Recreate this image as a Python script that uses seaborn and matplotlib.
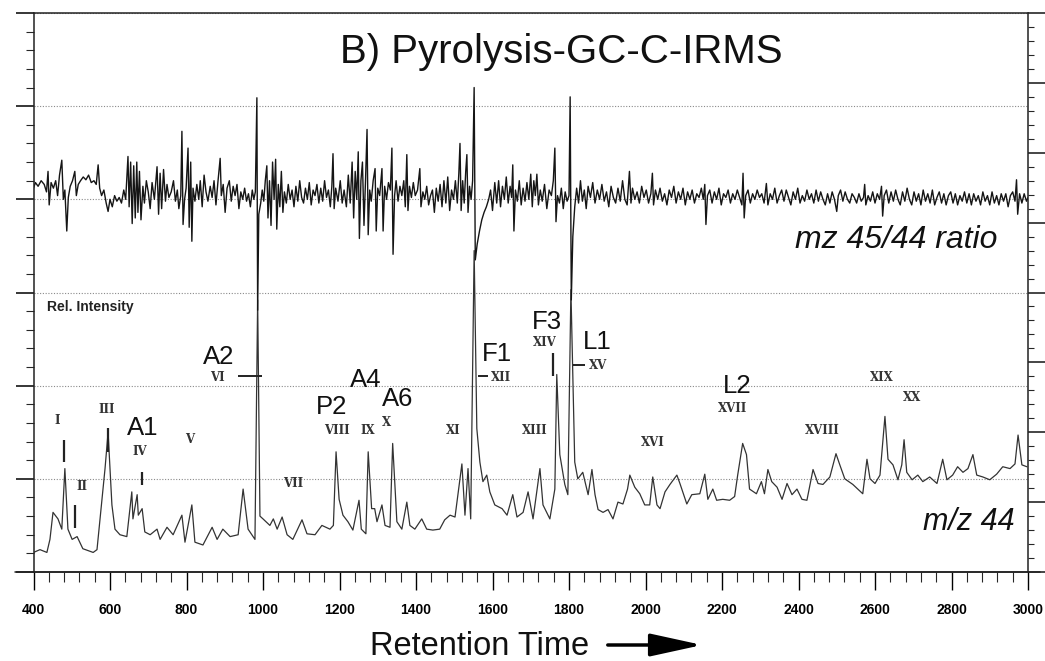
import matplotlib
matplotlib.use("Agg")
import matplotlib.pyplot as plt
import seaborn as sns
from matplotlib.ticker import MultipleLocator
from matplotlib.lines import Line2D

sns.set_theme(style="ticks")
plt.rcParams['font.family'] = ['Liberation Sans', 'DejaVu Sans']

# ---------------- data ----------------
title = "B) Pyrolysis-GC-C-IRMS"
x_ticks = list(range(400, 3001, 200))

# m/z 45/44 ratio trace (relative units, left axis 0-600)
ratio_time = [
    400, 405, 412, 420, 428, 434, 438, 441, 446, 452,
    458, 463, 468, 474, 478, 482, 487, 491, 496, 502,
    508, 512, 517, 523, 530, 537, 544, 551, 558, 564,
    569, 573, 578, 584, 590, 595, 600, 606, 612, 618,
    624, 630, 636, 641, 647, 650, 654, 658, 662, 666,
    670, 673, 677, 681, 686, 690, 695, 700, 705, 710,
    716, 723, 727, 731, 735, 740, 745, 749, 754, 760,
    766, 771, 776, 780, 785, 788, 791, 795, 799, 804,
    807, 811, 814, 817, 822, 827, 832, 836, 841, 846,
    851, 856, 862, 867, 872, 877, 882, 888, 891, 896,
    901, 906, 912, 917, 922, 927, 932, 937, 942, 947,
    952, 957, 962, 967, 972, 976, 980, 984, 986, 989,
    994, 998, 1002, 1006, 1010, 1013, 1017, 1021, 1025, 1029,
    1033, 1036, 1040, 1044, 1048, 1052, 1056, 1061, 1066, 1071,
    1076, 1081, 1086, 1091, 1096, 1101, 1106, 1111, 1116, 1121,
    1126, 1131, 1136, 1141, 1146, 1151, 1156, 1161, 1166, 1171,
    1176, 1180, 1183, 1186, 1190, 1196, 1202, 1207, 1212, 1218,
    1223, 1228, 1233, 1237, 1241, 1245, 1249, 1252, 1256, 1260,
    1264, 1268, 1272, 1275, 1279, 1283, 1288, 1293, 1296, 1300,
    1305, 1311, 1314, 1318, 1323, 1328, 1333, 1337, 1340, 1344,
    1348, 1353, 1358, 1363, 1368, 1372, 1376, 1379, 1383, 1388,
    1393, 1398, 1404, 1410, 1413, 1418, 1423, 1428, 1433, 1438,
    1443, 1448, 1453, 1458, 1463, 1468, 1473, 1478, 1483, 1488,
    1493, 1498, 1503, 1508, 1512, 1515, 1518, 1522, 1526, 1530,
    1533, 1536, 1540, 1544, 1548, 1552, 1555, 1560, 1566, 1572,
    1578, 1584, 1590, 1595, 1600, 1606, 1611, 1616, 1621, 1626,
    1631, 1636, 1641, 1646, 1650, 1653, 1656, 1660, 1665, 1670,
    1675, 1680, 1685, 1690, 1695, 1700, 1704, 1708, 1712, 1716,
    1720, 1725, 1730, 1736, 1742, 1748, 1754, 1759, 1763, 1766,
    1770, 1775, 1780, 1785, 1790, 1795, 1800, 1803, 1806, 1810,
    1815, 1820, 1825, 1830, 1835, 1840, 1845, 1850, 1856, 1862,
    1868, 1874, 1880, 1886, 1892, 1898, 1904, 1910, 1916, 1922,
    1928, 1934, 1940, 1946, 1952, 1958, 1962, 1966, 1972, 1978,
    1984, 1990, 1996, 2002, 2008, 2014, 2018, 2021, 2026, 2032,
    2038, 2044, 2050, 2056, 2062, 2068, 2074, 2080, 2086, 2092,
    2098, 2104, 2110, 2116, 2122, 2128, 2134, 2140, 2146, 2151,
    2155, 2158, 2162, 2168, 2174, 2180, 2186, 2192, 2198, 2204,
    2210, 2216, 2222, 2228, 2234, 2240, 2246, 2252, 2255, 2258,
    2262, 2268, 2274, 2280, 2286, 2292, 2298, 2304, 2310, 2316,
    2320, 2326, 2332, 2338, 2344, 2350, 2356, 2362, 2368, 2374,
    2380, 2386, 2392, 2398, 2404, 2410, 2416, 2422, 2428, 2434,
    2440, 2446, 2452, 2458, 2464, 2470, 2476, 2482, 2488, 2494,
    2500, 2504, 2510, 2516, 2522, 2528, 2534, 2540, 2546, 2552,
    2558, 2564, 2570, 2573, 2576, 2582, 2588, 2594, 2600, 2606,
    2612, 2617, 2620, 2624, 2630, 2636, 2642, 2648, 2654, 2660,
    2666, 2672, 2678, 2684, 2690, 2696, 2702, 2708, 2714, 2720,
    2726, 2732, 2738, 2744, 2750, 2756, 2762, 2768, 2774, 2780,
    2786, 2792, 2798, 2804, 2810, 2816, 2822, 2828, 2834, 2840,
    2846, 2852, 2858, 2864, 2870, 2876, 2882, 2888, 2894, 2900,
    2906, 2912, 2918, 2924, 2930, 2936, 2942, 2948, 2954, 2960,
    2966, 2970, 2973, 2978, 2984, 2990, 2996, 3000,
]
ratio_value = [
    412, 418, 414, 420, 416, 408, 430, 394, 418, 412,
    420, 404, 426, 442, 400, 410, 366, 402, 414, 420,
    430, 404, 416, 420, 424, 421, 426, 418, 420, 416,
    437, 412, 404, 410, 396, 387, 400, 392, 404, 398,
    402, 396, 410, 400, 446, 392, 440, 374, 436, 380,
    440, 386, 430, 378, 414, 396, 420, 408, 390, 418,
    400, 435, 384, 428, 390, 432, 398, 416, 402, 408,
    420, 398, 410, 390, 404, 473, 373, 400, 412, 455,
    370, 440, 355, 412, 398, 416, 400, 420, 392, 426,
    408, 398, 414, 402, 420, 394, 418, 444, 404, 416,
    386, 412, 420, 398, 414, 404, 416, 390, 408, 400,
    412, 398, 406, 392, 410, 400, 408, 509, 281, 384,
    396, 410, 398, 420, 436, 380, 420, 372, 440, 400,
    443, 368, 416, 392, 430, 386, 408, 396, 416, 400,
    410, 392, 414, 398, 420, 402, 396, 412, 400, 418,
    394, 410, 404, 416, 396, 412, 398, 420, 402, 410,
    392, 414, 449, 390, 412, 398, 420, 396, 410, 392,
    426, 396, 440, 380, 430, 400, 451, 358, 420, 440,
    372, 420, 475, 362, 410, 398, 420, 433, 366, 412,
    404, 433, 366, 414, 400, 418, 410, 455, 341, 404,
    420, 398, 414, 404, 420, 392, 448, 388, 414, 402,
    418, 404, 410, 433, 392, 408, 400, 414, 394, 404,
    410, 386, 412, 398, 416, 392, 420, 396, 424, 388,
    410, 400, 420, 396, 428, 460, 388, 420, 396, 430,
    448, 386, 414, 400, 420, 520, 335, 352, 366, 378,
    386, 392, 400, 410, 388, 418, 396, 420, 392, 414,
    400, 424, 396, 414, 402, 437, 366, 410, 398, 420,
    394, 412, 398, 418, 400, 427, 392, 420, 404, 427,
    394, 410, 398, 416, 390, 410, 404, 420, 455, 376,
    404, 396, 412, 390, 408, 398, 404, 510, 292, 360,
    392, 412, 396, 420, 398, 410, 390, 414, 402, 418,
    396, 410, 400, 416, 398, 408, 392, 414, 402, 396,
    412, 398, 420, 400, 394, 430, 396, 412, 400, 408,
    396, 414, 402, 410, 396, 406, 428, 394, 410, 400,
    412, 398, 406, 394, 410, 402, 414, 396, 408, 400,
    412, 394, 408, 400, 410, 396, 406, 402, 412, 400,
    416, 373, 404, 410, 396, 408, 400, 412, 394, 406,
    402, 410, 396, 406, 400, 410, 402, 394, 428, 380,
    404, 410, 396, 406, 400, 410, 402, 406, 396, 417,
    394, 406, 400, 412, 396, 404, 410, 398, 410, 402,
    394, 408, 400, 412, 396, 404, 398, 410, 400, 406,
    396, 410, 398, 408, 400, 394, 406, 396, 408, 400,
    387, 404, 410, 398, 408, 400, 396, 406, 402, 396,
    406, 398, 402, 416, 394, 404, 398, 408, 396, 406,
    400, 414, 382, 404, 410, 396, 408, 398, 410, 400,
    394, 408, 398, 412, 400, 394, 408, 398, 406, 394,
    410, 398, 406, 396, 410, 394, 402, 408, 396, 406,
    394, 404, 408, 396, 406, 394, 404, 398, 408, 396,
    406, 394, 406, 398, 404, 394, 408, 398, 404, 394,
    408, 396, 404, 394, 406, 398, 406, 392, 404, 408,
    398, 421, 384, 406, 396, 406, 398, 402,
]

# m/z 44 trace (relative units, left axis 0-600)
mz44_time = [
    400, 417, 435, 443, 451, 464, 474, 482, 490, 501,
    514, 529, 556, 566, 574, 587, 595, 605, 613, 626,
    644, 657, 660, 671, 674, 684, 691, 705, 723, 731,
    749, 765, 788, 796, 814, 822, 843, 867, 880, 895,
    914, 935, 948, 961, 979, 986, 992, 1000, 1018, 1027,
    1037, 1050, 1063, 1078, 1102, 1115, 1136, 1154, 1175, 1184,
    1191, 1199, 1209, 1222, 1235, 1251, 1257, 1269, 1275, 1284,
    1292, 1298, 1311, 1319, 1332, 1339, 1350, 1363, 1376, 1384,
    1397, 1415, 1428, 1444, 1462, 1475, 1489, 1502, 1520, 1528,
    1536, 1543, 1552, 1559, 1567, 1575, 1585, 1593, 1606, 1625,
    1638, 1653, 1664, 1680, 1693, 1706, 1724, 1732, 1750, 1763,
    1768, 1776, 1789, 1797, 1805, 1815, 1823, 1836, 1850, 1860,
    1868, 1876, 1889, 1902, 1915, 1928, 1941, 1953, 1959, 1972,
    1985, 1998, 2011, 2019, 2030, 2038, 2051, 2064, 2082, 2090,
    2108, 2121, 2142, 2155, 2163, 2176, 2186, 2202, 2220, 2233,
    2241, 2254, 2264, 2272, 2290, 2303, 2311, 2320, 2330, 2344,
    2357, 2370, 2383, 2396, 2409, 2422, 2438, 2451, 2464, 2482,
    2498, 2508, 2521, 2542, 2568, 2579, 2587, 2600, 2613, 2626,
    2634, 2647, 2660, 2670, 2676, 2683, 2697, 2712, 2725, 2743,
    2762, 2777, 2788, 2803, 2816, 2830, 2843, 2856, 2866, 2882,
    2900, 2918, 2934, 2953, 2966, 2974, 2984, 2997,
]
mz44_value = [
    21, 24, 21, 35, 64, 57, 46, 111, 46, 35,
    38, 25, 21, 24, 57, 111, 150, 72, 46, 40,
    38, 86, 57, 83, 61, 68, 43, 40, 46, 35,
    48, 40, 61, 32, 72, 32, 29, 48, 35, 46,
    38, 40, 89, 46, 35, 292, 60, 57, 50, 57,
    46, 59, 40, 35, 56, 41, 40, 50, 46, 50,
    129, 78, 61, 54, 45, 77, 46, 41, 129, 68,
    68, 54, 72, 50, 48, 138, 54, 46, 75, 50,
    46, 57, 46, 45, 46, 56, 61, 59, 116, 61,
    111, 57, 345, 154, 118, 97, 104, 86, 72, 68,
    61, 83, 59, 64, 86, 57, 111, 72, 57, 89,
    212, 126, 94, 83, 303, 118, 100, 107, 83, 110,
    83, 67, 64, 67, 57, 75, 73, 89, 104, 91,
    84, 72, 72, 102, 72, 68, 86, 94, 104, 95,
    73, 83, 84, 105, 78, 89, 77, 78, 77, 81,
    104, 138, 126, 89, 84, 97, 84, 110, 97, 91,
    78, 95, 83, 89, 78, 77, 110, 95, 94, 102,
    127, 115, 100, 94, 84, 121, 100, 95, 104, 167,
    121, 115, 99, 115, 142, 107, 99, 104, 97, 102,
    95, 121, 99, 104, 113, 107, 111, 126, 104, 102,
    99, 105, 113, 111, 116, 147, 115, 113,
]

# compound labels (large) and peak numbers (roman)
compound_labels = ["A1", "A2", "P2", "A4", "A6", "F1", "F3", "L1", "L2"]
compound_time = [686, 885, 1178, 1269, 1352, 1612, 1742, 1873, 2239]
compound_level = [155, 231, 177, 206, 186, 234, 268, 247, 200]

roman_labels = ["I", "II", "III", "IV", "V", "VI", "VII", "VIII", "IX", "X",
                "XI", "XII", "XIII", "XIV", "XV", "XVI", "XVII", "XVIII", "XIX", "XX"]
roman_time = [461, 527, 592, 678, 809, 880, 1078, 1193, 1273, 1322,
              1497, 1622, 1711, 1737, 1876, 2019, 2228, 2461, 2618, 2696]
roman_level = [163, 92, 174, 129, 142, 209, 95, 152, 152, 161,
               152, 209, 152, 246, 222, 139, 176, 152, 209, 187]

# short vertical markers and horizontal pointers
mark_time = [480, 508, 595, 684, 1758]
mark_low = [118, 47, 129, 93, 210]
mark_high = [142, 72, 155, 107, 235]
pointer_start = [935, 1562, 1810]
pointer_end = [997, 1588, 1842]
pointer_level = [210, 210, 222]

# ---------------- figure ----------------
W, H = 1045, 661
fig = plt.figure(figsize=(W / 100, H / 100), dpi=100)
ax = fig.add_axes([33.5 / W, 1 - 572 / H, (1028 - 33.5) / W, (572 - 13) / H])

ax.grid(axis="y", which="major", linestyle=(0, (1, 1.5)), color="#8a8a8a", linewidth=0.8)

sns.lineplot(x=mz44_time, y=mz44_value, ax=ax, color="#333333", linewidth=0.9,
             estimator=None, sort=False)
sns.lineplot(x=ratio_time, y=ratio_value, ax=ax, color="#151515", linewidth=1.0,
             estimator=None, sort=False)

ax.set_xlim(400, 3000)
ax.set_ylim(0, 600)
ax.set_xlabel("")
ax.set_ylabel("")
ax.set_xticks(x_ticks)
ax.set_xticklabels([str(v) for v in x_ticks])
ax.xaxis.set_minor_locator(MultipleLocator(40))
ax.yaxis.set_major_locator(MultipleLocator(100))
ax.yaxis.set_minor_locator(MultipleLocator(20))
ax.tick_params(axis="x", which="major", direction="out", length=13, width=1.0,
               pad=9, labelsize=10, colors="black", bottom=True)
ax.tick_params(axis="x", which="minor", direction="out", length=7, width=0.8, bottom=True)
ax.tick_params(axis="y", which="major", direction="out", length=13, width=1.3,
               left=True, labelleft=False)
ax.tick_params(axis="y", which="minor", direction="out", length=6, width=0.8, left=True)
for lab in ax.get_xticklabels():
    lab.set_fontweight("bold")
for sp in ax.spines.values():
    sp.set_color("#222222")
    sp.set_linewidth(1.1)

ax2 = ax.twinx()
ax2.set_ylim(0, 8)
ax2.yaxis.set_major_locator(MultipleLocator(1))
ax2.yaxis.set_minor_locator(MultipleLocator(0.2))
ax2.tick_params(axis="y", which="major", direction="out", length=12, width=1.2,
                right=True, labelright=False)
ax2.tick_params(axis="y", which="minor", direction="out", length=4.5, width=0.8, right=True)
for sp in ax2.spines.values():
    sp.set_visible(False)

# extended baseline of the time axis
fig.add_artist(Line2D([15 / W, 1040 / W], [1 - 572 / H, 1 - 572 / H],
                      color="#222222", linewidth=1.1))

# markers and pointers
ax.vlines(mark_time, mark_low, mark_high, color="#222222", linewidth=1.6)
ax.hlines(pointer_level, pointer_start, pointer_end, color="#222222", linewidth=1.4)

# labels
for lab, t, v in zip(compound_labels, compound_time, compound_level):
    ax.text(t, v, lab, ha="center", va="center", fontsize=18.5, color="#111111")
for lab, t, v in zip(roman_labels, roman_time, roman_level):
    ax.text(t, v, lab, ha="center", va="center", fontsize=8.5, fontweight="bold",
            family=["DejaVu Serif"], color="#333333")

ax.text(1781, 546, title, ha="center", va="baseline", fontsize=29, color="#111111")
ax.text(2919, 348, "mz 45/44 ratio", ha="right", va="baseline", fontsize=23,
        style="italic", color="#111111")
ax.text(2966, 45, "m/z 44", ha="right", va="baseline", fontsize=22,
        style="italic", color="#111111")
ax.text(435, 280, "Rel. Intensity", ha="left", va="baseline", fontsize=10,
        fontweight="bold", color="#222222")

fig.text(370 / W, 1 - 655 / H, "Retention Time", ha="left", va="baseline",
         fontsize=23.5, color="#111111")
ax.annotate("", xy=(705 / W, 1 - 645 / H), xytext=(605 / W, 1 - 645 / H),
            xycoords="figure fraction", textcoords="figure fraction",
            arrowprops=dict(arrowstyle="-|>,head_length=1.6,head_width=0.35",
                            mutation_scale=20, linewidth=2.5, color="black"))

fig.savefig("out.png", dpi=100, facecolor="white")
